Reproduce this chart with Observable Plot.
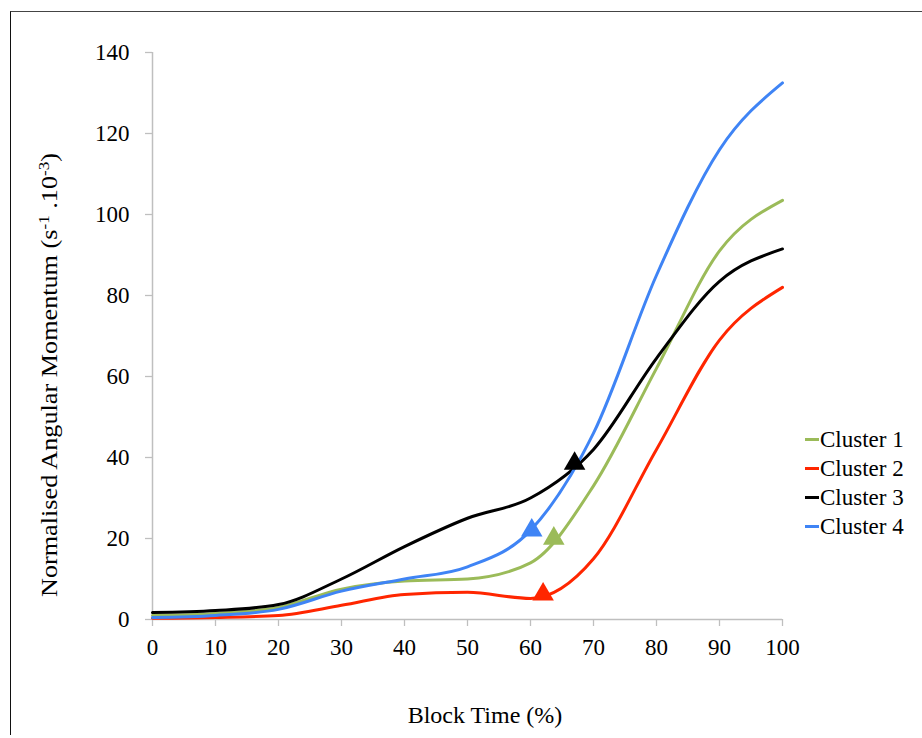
<!DOCTYPE html>
<html>
<head>
<meta charset="utf-8">
<script src="https://cdn.jsdelivr.net/npm/d3@7"></script>
<script src="https://cdn.jsdelivr.net/npm/@observablehq/plot@0.6"></script>
<style>
  html, body { margin: 0; padding: 0; background: #fff; }
  #wrap { position: relative; width: 922px; height: 738px; overflow: hidden; font-family: "Liberation Serif", "Times New Roman", serif; }
  #frame { position: absolute; left: 10px; top: 11px; right: -10px; bottom: 3px; border-left: 1.5px solid #111; border-top: 1.5px solid #444; }
  #chart { position: absolute; left: 0; top: 0; }
  #legend { position: absolute; left: 805px; top: 425px; font-size: 23px; color: #000; }
  .item { display: flex; align-items: center; height: 29px; }
  .sw { width: 14px; height: 3px; margin-right: 1px; }
</style>
</head>
<body>
<div id="wrap">
  <div id="frame"></div>
  <div id="chart"></div>
  <div id="legend"></div>
</div>
<script>
// Block time (%) sampled every 10 %
const time = [0, 10, 20, 30, 40, 50, 60, 70, 80, 90, 100];

// Normalised angular momentum (s^-1 . 10^-3) per cluster
const cluster1 = [1.0, 1.5, 3.0, 7.5, 9.5, 10.0, 14.0, 33.0, 62.0, 91.0, 103.5];
const cluster2 = [0.3, 0.5, 1.0, 3.5, 6.2, 6.7, 5.2, 15.0, 42.0, 69.0, 82.0];
const cluster3 = [1.7, 2.2, 3.7, 10.0, 18.0, 25.0, 30.0, 42.0, 64.5, 83.5, 91.5];
const cluster4 = [0.5, 1.0, 2.5, 7.0, 10.0, 13.0, 22.0, 46.0, 85.0, 116.0, 132.5];

// Event markers (triangles) on each curve
const markerTime  = [63.7, 62.0, 67.0, 60.2];
const markerValue = [20.0, 6.2, 38.5, 22.0];

const seriesNames = ["Cluster 1", "Cluster 2", "Cluster 3", "Cluster 4"];
const seriesColors = ["#9bbb59", "#ff2600", "#000000", "#3f84f5"];
const xTicks = [0, 10, 20, 30, 40, 50, 60, 70, 80, 90, 100];
const yTicks = [0, 20, 40, 60, 80, 100, 120, 140];

const seriesValues = [cluster1, cluster2, cluster3, cluster4];
const rows = seriesValues.flatMap((vals, i) =>
  vals.map((v, j) => ({series: seriesNames[i], t: time[j], v})));
const markers = seriesNames.map((s, i) => ({series: s, t: markerTime[i], v: markerValue[i]}));

const axisGray = "#bfbfbf";
const serif = "Liberation Serif";

const chart = Plot.plot({
  width: 922,
  height: 738,
  marginLeft: 152,
  marginRight: 140,
  marginTop: 52,
  marginBottom: 119,
  style: {background: "transparent", overflow: "visible", fontFamily: serif},
  x: {domain: [0, 100]},
  y: {domain: [0, 140]},
  color: {domain: seriesNames, range: seriesColors},
  marks: [
    Plot.axisX({ticks: xTicks, tickSize: 7, tickPadding: 12, stroke: axisGray, strokeWidth: 1.3, fill: "#000", fontSize: 23, fontFamily: serif, label: null}),
    Plot.axisY({ticks: yTicks, tickSize: 7, tickPadding: 16, stroke: axisGray, strokeWidth: 1.3, fill: "#000", fontSize: 23, fontFamily: serif, label: null}),
    Plot.ruleX([0], {stroke: axisGray, strokeWidth: 1.5}),
    Plot.ruleY([0], {stroke: axisGray, strokeWidth: 1.5}),
    Plot.line(rows, {x: "t", y: "v", z: "series", stroke: "series", strokeWidth: 3, curve: "monotone-x"}),
    Plot.dot(markers, {x: "t", y: "v", fill: "series", symbol: "triangle", r: 8, stroke: "none"})
  ]
});

const svg = d3.select(chart);

// x axis title
svg.append("text")
  .attr("x", 485).attr("y", 723)
  .attr("text-anchor", "middle")
  .attr("font-family", serif)
  .attr("font-size", 24)
  .attr("fill", "#000")
  .text("Block Time (%)");

// y axis title with superscripts
const yt = svg.append("text")
  .attr("transform", "translate(57,375) rotate(-90)")
  .attr("text-anchor", "middle")
  .attr("font-family", serif)
  .attr("font-size", 23)
  .attr("textLength", 444)
  .attr("lengthAdjust", "spacingAndGlyphs")
  .attr("fill", "#000");
yt.append("tspan").text("Normalised Angular Momentum (s");
yt.append("tspan").attr("dy", -8).attr("font-size", 15).text("-1");
yt.append("tspan").attr("dy", 8).text(" .10");
yt.append("tspan").attr("dy", -8).attr("font-size", 15).text("-3");
yt.append("tspan").attr("dy", 8).text(")");

document.getElementById("chart").appendChild(chart);

// legend
const legend = d3.select("#legend");
seriesNames.forEach((name, i) => {
  const item = legend.append("div").attr("class", "item");
  item.append("div").attr("class", "sw").style("background", seriesColors[i]);
  item.append("span").text(name);
});
</script>
</body>
</html>
